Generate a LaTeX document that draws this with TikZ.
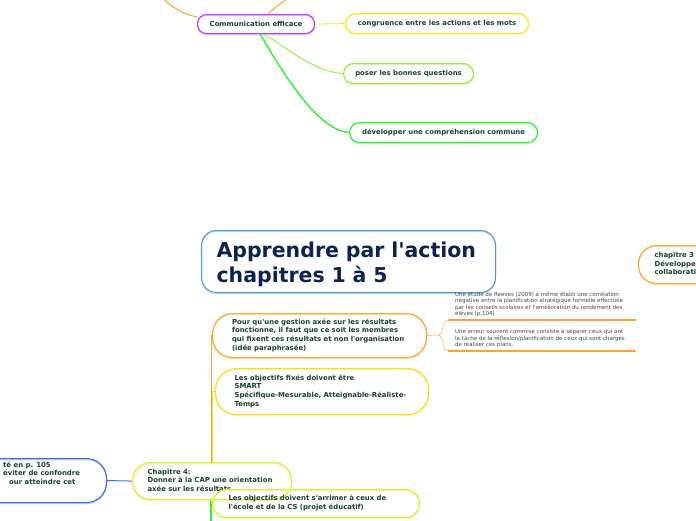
\documentclass[tikz,border=0pt]{standalone}
\usepackage{fontspec}
\setmainfont{DejaVu Sans}
\definecolor{txt}{HTML}{1A4030}
\definecolor{ttxt}{HTML}{0D2252}
\definecolor{ntxt}{HTML}{484848}
\definecolor{cPurple}{HTML}{B540F5}
\definecolor{cYel}{HTML}{EEEE22}
\definecolor{cPoser}{HTML}{99EE33}
\definecolor{cGreen}{HTML}{33EE33}
\definecolor{cTitle}{HTML}{4A9AD8}
\definecolor{cOrange}{HTML}{F8A630}
\definecolor{cOrangeL}{HTML}{FCC680}
\definecolor{cGold}{HTML}{F5DD20}
\definecolor{cLime}{HTML}{D8EE2A}
\definecolor{cBlue}{HTML}{3A6CF0}
\newcommand{\mlines}[1]{\begin{tabular}{@{}l@{}}#1\end{tabular}}
\newcommand{\bodyfont}{\fontsize{6.9}{8.7}\selectfont\bfseries}
\newcommand{\notefont}{\fontsize{5.5}{6.5}\selectfont}
\newcommand{\ap}{\textquotesingle}
\tikzset{
  mbox/.style={draw=#1, line width=1.1pt, anchor=north west, inner sep=0pt,
    text=txt, font=\bodyfont, align=left,
    preaction={draw=#1!35, line width=1.1pt, transform canvas={yshift=-1pt}}},
  notetext/.style={anchor=north west, inner sep=0pt, text=ntxt, font=\notefont, align=left},
  conn/.style={draw=#1, line width=1pt},
}
\begin{document}
\begin{tikzpicture}[x=1pt,y=-1pt]
\useasboundingbox (0,0) rectangle (696,520);
\fill[white] (0,0) rectangle (696,520);
\clip (0,0) rectangle (696,520);

% free ends and helper coordinates
\coordinate (tr) at (211,0);
\coordinate (offB) at (211,530);
\coordinate (topL) at (162,-3);
\coordinate (topR) at (290,-3);
\coordinate (n1l) at (448,320);
\coordinate (n1r) at (636,320);
\coordinate (n2l) at (448,351);
\coordinate (n2r) at (636,351);
\coordinate (brc) at (438,335);

% top branch
\node[mbox=cPurple, rounded corners=9pt, minimum width=117pt, minimum height=19pt] (comm) at (197,14) {Communication efficace};
\node[mbox=cYel, rounded corners=10pt, minimum width=183pt, minimum height=20pt] (cong) at (345,13) {congruence entre les actions et les mots};
\node[mbox=cPoser, rounded corners=10pt, minimum width=130pt, minimum height=20pt] (poser) at (343,63) {poser les bonnes questions};
\node[mbox=cGreen, rounded corners=10pt, minimum width=188pt, minimum height=20pt] (dev) at (349,122) {développer une compréhension commune};

\draw[conn=cOrange] (comm.north west) ++(0,3) .. controls (182,14) and (170,6) .. (topL);
\draw[conn=cOrange] ([xshift=12pt]comm.north) .. controls (274,8) and (281,3) .. (topR);
\draw[conn=cYel, line width=0.8pt] (comm.east) -- (cong.west);
\draw[conn=cPoser, line width=0.9pt] ([xshift=8pt]comm.south) .. controls (290,50) and (315,72) .. (poser.west);
\draw[conn=cGreen, line width=1.4pt] ([xshift=4pt]comm.south) .. controls (290,85) and (320,130) .. (dev.west);

% central topic
\node[mbox=cTitle, line width=1pt, rounded corners=15pt, minimum width=294pt, minimum height=62pt,
  text width=264pt, text=ttxt, font=\fontsize{20.5}{25}\selectfont\bfseries] (title) at (201,230)
  {\mlines{\rule{0pt}{24.5pt}Apprendre par l\ap action\\chapitres 1 à 5}};

% chapitre 3 (cut by the right edge, as in the reference)
\node[mbox=cOrange, rounded corners=18pt, minimum width=130pt, minimum height=38pt, text width=98pt] (ch3) at (638,245)
  {\mlines{chapitre 3\\Développer une culture de\\collaboration}};

% chapitre 4 branch
\node[mbox=cOrange, rounded corners=20pt, minimum width=214pt, minimum height=44pt, text width=175pt] (pour) at (212,313)
  {\mlines{Pour qu\ap une gestion axée sur les résultats\\fonctionne, il faut que ce soit les membres\\qui fixent ces résultats et non l\ap organisation\\(idée paraphrasée)}};
\node[mbox=cGold, rounded corners=21pt, minimum width=213pt, minimum height=46pt, text width=175pt] (fix) at (215,368)
  {\mlines{Les objectifs fixés doivent être\\SMART\\Spécifique-Mesurable, Atteignable-Réaliste-\\Temps}};
\node[mbox=cLime, rounded corners=18pt, minimum width=159pt, minimum height=37pt, text width=129pt] (ch4) at (132,462)
  {\mlines{Chapitre 4:\\Donner à la CAP une orientation\\axée sur les résultats}};
\node[mbox=cLime, rounded corners=14pt, minimum width=207pt, minimum height=28pt, text width=175pt] (arr) at (212,489)
  {\mlines{Les objectifs doivent s\ap arrimer à ceux de\\l\ap école et de la CS (projet éducatif)}};
\node[mbox=cBlue, rounded corners=20pt, minimum width=166pt, minimum height=44pt] (lbox) at (-60,458) {};
\node[anchor=north west, inner sep=0pt, text=txt, font=\bodyfont, align=left] (ltext) at (3,460.9)
  {\mlines{té en p. 105\\éviter de confondre\\\hspace*{6pt}our atteindre cet}};

\node[notetext] (note1) at (455,291.45)
  {\mlines{Une étude de Reeves (2009) a même établi une corrélation\\négative entre la planification stratégique formelle effectuée\\par les conseils scolaires et l\ap amélioration du rendement des\\élèves (p.104)}};
\node[notetext] (note2) at (455,329)
  {\mlines{Une erreur souvent commise consiste à séparer ceux qui ont\\la tâche de la réflexion/planification de ceux qui sont chargés\\de réaliser ces plans.}};

% connectors of chapitre 4
\draw[conn=cOrange] (ch4.north -| tr) |- (pour.west);
\draw[conn=cGold] ([xshift=1pt]ch4.north -| tr) |- (fix.west);
\draw[conn=cGreen, line width=1.3pt] (ch4.south -| tr) -- (offB);
\draw[conn=cLime] (ch4.south -| tr) |- (arr.west);
\draw[conn=cBlue] (lbox.east) -- (ch4.west);

% notes of "Pour qu'une gestion..."
\draw[conn=cOrangeL, line width=0.8pt] (pour.east) -- (brc);
\draw[conn=cOrangeL, line width=0.8pt] (brc) .. controls (444,335) and (442,320) .. (n1l);
\draw[conn=cOrangeL, line width=0.8pt] (brc) .. controls (444,335) and (442,351) .. (n2l);
\draw[conn=cOrange, line width=1.3pt] (n1l) -- (n1r);
\draw[conn=cOrange, line width=1.3pt] (n2l) -- (n2r);
\end{tikzpicture}
\end{document}
